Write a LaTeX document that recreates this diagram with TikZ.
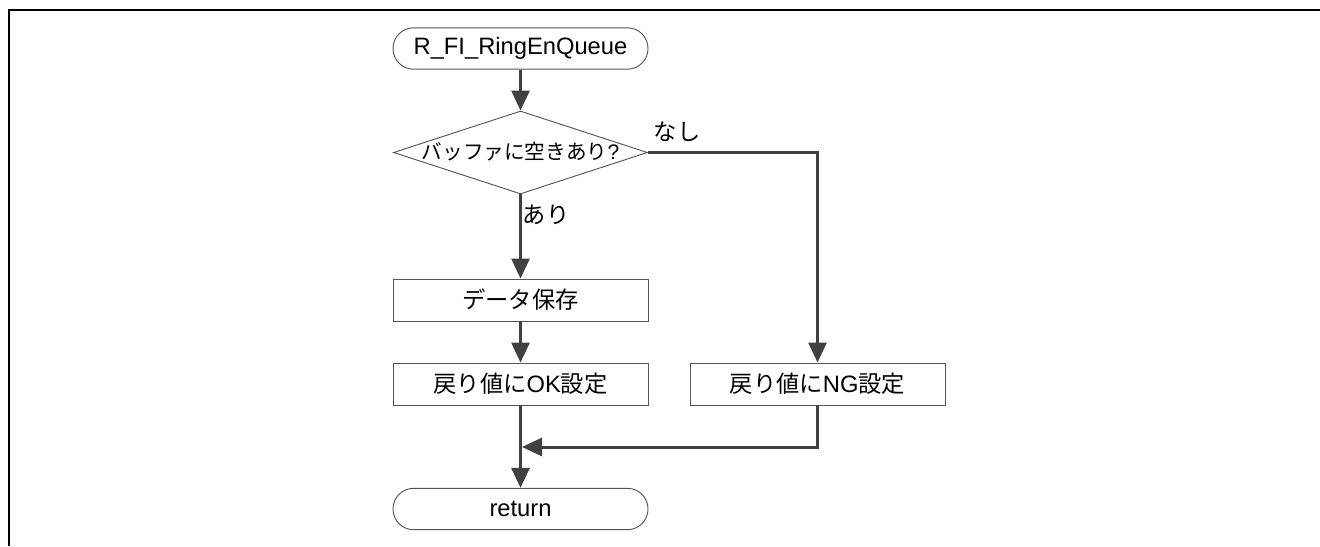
\documentclass[tikz,border=0pt]{standalone}
\usepackage{fontspec}
\setmainfont{Liberation Sans}
\newfontfamily\jp[Scale=0.98]{Noto Sans CJK JP}
\usetikzlibrary{shapes.geometric,arrows.meta}
\definecolor{flowline}{HTML}{404040}
\definecolor{flowedge}{HTML}{555555}

\begin{document}
\begin{tikzpicture}
[x=0.75pt,y=-0.75pt,font=\fontsize{17.8}{21}\selectfont,%
  termdecorate/.style={shape=rectangle,rounded corners=15.4pt,draw=flowedge,line width=0.7pt,minimum width=191.25pt,minimum height=31pt,inner sep=0pt},%
  boxdecorate/.style={shape=rectangle,draw=flowedge,line width=0.7pt,minimum width=191.25pt,minimum height=31.5pt,inner sep=0pt},%
  decisiondecorate/.style={shape=diamond,aspect=3.06,draw=flowedge,line width=0.7pt,minimum width=190.5pt,minimum height=62.25pt,inner sep=0pt,text height=11pt,text depth=0pt,font=\fontsize{15.8}{19}\selectfont},%
  arrowdecorate/.style={-{Triangle[length=15pt,width=13.5pt]},line width=2.25pt,draw=flowline},%
  linedecorate/.style={-,line width=1.5pt,draw=black}]
\useasboundingbox (0,0) rectangle (1320,546);
%% frame
\draw[linedecorate] (1320,10) -- (8.5,10) -- (8.5,546);
%% nodes or vertices
\node (start) at (520.5,48.5) [termdecorate] {R\_FI\_RingEnQueue};
\node (cond) at (520.5,152.5) [decisiondecorate] {{\jp バッファに空きあり}?};
\foreach \nodename/\x/\y/\boxtext in {data/520.5/300/{\jp データ保存},
  ok/520.5/384/{{\jp 戻り値に}OK{\jp 設定}}, ng/817.5/384/{{\jp 戻り値に}NG{\jp 設定}}} {
  \node (\nodename) at (\x,\y) [boxdecorate] {\boxtext};
}
\node (ret) at (520.5,509) [termdecorate] {return};
\coordinate (join) at (522,447);
%% labels
\node (no) at (677,132) {\jp なし};
\node (yes) at (546,215) {\jp あり};
%% edges or lines
\path
(start) edge[arrowdecorate] (cond)
(cond) edge[arrowdecorate] (data)
(data) edge[arrowdecorate] (ok)
(ok) edge[arrowdecorate] (ret)
(cond.east) edge[arrowdecorate,to path={-| (\tikztotarget)}] (ng.north)
(ng.south) edge[arrowdecorate,to path={|- (\tikztotarget)}] (join);
\end{tikzpicture}
\end{document}
